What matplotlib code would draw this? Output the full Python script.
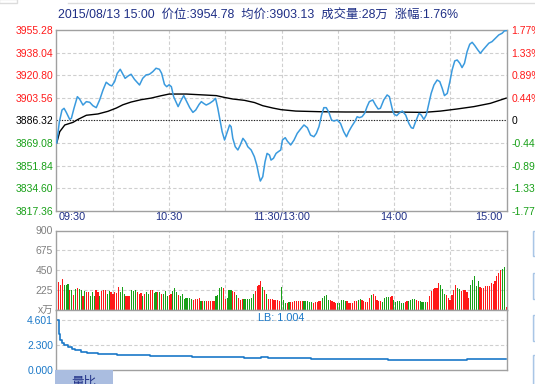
import matplotlib
matplotlib.use('Agg')
import matplotlib.pyplot as plt
from matplotlib.transforms import blended_transform_factory
from matplotlib.patches import Rectangle
import numpy as np

plt.rcParams['font.family'] = ['Liberation Sans', 'Noto Sans CJK SC', 'DejaVu Sans']

# ---------------- data ----------------
title = "2015/08/13 15:00  价位:3954.78  均价:3903.13  成交量:28万  涨幅:1.76%"
prev_close = 3886.32
price_ticks = [3817.36, 3834.60, 3851.84, 3869.08, 3886.32, 3903.56, 3920.80, 3938.04, 3955.28]
time_labels = ["09:30", "10:30", "11:30/13:00", "14:00", "15:00"]
time_label_min = [0, 60, 120, 180, 240]

price_min = [0, 1.4, 2.8, 3.9, 5.1, 6.9, 7.8, 9.2, 11, 12.2, 14, 15.8, 17.6, 19.3, 21.1, 22.9, 24.7, 26.4,
             28.2, 29.4, 30.9, 32.3, 33.9, 35.3, 36.5, 38.3, 39.7, 41.5, 44.2, 45.9, 47.7, 49.5, 51.3, 53,
             54.8, 56, 57.5, 58.7, 60, 61.2, 62.4, 64.8, 66.5, 67.8, 69.2, 71, 72.7, 74.2, 76, 77.2, 78.4,
             79.8, 81.6, 83.4, 84.8, 86, 87.3, 88.3, 89.6, 90.8, 92.3, 93.1, 94, 95.3, 96.7, 98, 99.4, 100.8,
             102, 103.8, 105.5, 106.8, 107.9, 108.7, 110, 111.2, 112.3, 113.6, 114.4, 115.7, 117.1, 118.3,
             119.6, 120.5, 122, 123.1, 124.9, 126.7, 128.4, 130.2, 132, 133.8, 135.5, 137.3, 138.6, 140,
             141.4, 142.6, 143.9, 145.3, 146.7, 148, 149.7, 151.5, 153.2, 154.7, 155.9, 157.4, 159.1, 160.4,
             161.6, 163, 164.4, 165.7, 166.9, 168.7, 170.2, 171.6, 172.8, 174.6, 176.4, 177.6, 178.5, 179.3,
             180.2, 181.5, 182.7, 184.5, 186.3, 188, 189.3, 190.3, 191.6, 193.4, 194.6, 196, 197.3, 198.7,
             199.9, 201.4, 203.1, 204.5, 205.8, 207, 208.5, 209.9, 211.1, 212.5, 213.8, 215.2, 216.4, 217.7,
             219.1, 220.5, 221.8, 223.2, 224.8, 226.2, 227.6, 229.1, 230.7, 232.4, 234.2, 236, 237.8, 239, 240]
price_val = [3869.1, 3885.3, 3894.2, 3895.5, 3892.4, 3887.1, 3887.8, 3895.5, 3904.4, 3902.6, 3898.0, 3900.6,
             3900.1, 3897.5, 3896.0, 3901.9, 3909.5, 3915.4, 3913.3, 3912.6, 3915.9, 3922.2, 3925.3, 3921.5,
             3918.4, 3920.4, 3921.5, 3917.6, 3913.3, 3918.4, 3921.0, 3921.5, 3923.5, 3926.1, 3925.3, 3922.2,
             3913.8, 3912.0, 3913.5, 3912.0, 3904.4, 3896.8, 3901.9, 3905.2, 3901.1, 3896.0, 3892.4, 3894.2,
             3898.5, 3900.6, 3899.3, 3898.0, 3899.3, 3901.1, 3903.1, 3895.5, 3885.3, 3877.7, 3871.3, 3876.4,
             3882.8, 3881.5, 3872.6, 3866.2, 3863.7, 3867.5, 3872.6, 3870.0, 3866.2, 3863.7, 3858.6, 3852.2,
             3844.5, 3840.0, 3843.3, 3854.7, 3861.1, 3859.8, 3856.0, 3857.3, 3861.1, 3862.4, 3863.7, 3871.3,
             3873.1, 3870.5, 3867.5, 3871.3, 3876.4, 3879.7, 3882.8, 3880.7, 3875.1, 3873.8, 3876.4, 3881.5,
             3890.4, 3896.0, 3896.0, 3892.4, 3886.6, 3885.8, 3886.6, 3884.0, 3877.7, 3873.8, 3877.7, 3881.5,
             3885.3, 3889.1, 3888.4, 3889.1, 3891.7, 3896.8, 3900.6, 3901.9, 3898.0, 3895.0, 3895.5, 3901.9,
             3905.7, 3904.4, 3899.0, 3894.0, 3890.9, 3889.9, 3891.7, 3893.4, 3890.4, 3884.0, 3880.7, 3880.2,
             3885.3, 3891.7, 3890.4, 3887.1, 3890.4, 3899.3, 3906.9, 3913.3, 3917.1, 3915.9, 3910.8, 3905.2,
             3906.9, 3915.9, 3924.8, 3931.7, 3932.4, 3929.9, 3926.6, 3929.9, 3938.8, 3944.4, 3945.9, 3943.4,
             3940.1, 3937.5, 3940.1, 3942.6, 3945.2, 3946.4, 3949.0, 3951.5, 3952.8, 3954.6, 3954.8]

avg_min = [0, 1.6, 4.3, 8.7, 11.4, 15.8, 22, 27.3, 31.8, 35.3, 39.7, 45.1, 50.4, 55.7, 60, 69.2, 85.2, 89.6,
           94, 100.2, 105.6, 110, 115.4, 119.7, 127.6, 140.9, 154.2, 180, 196, 204.9, 213.8, 222.7, 231.5, 240]
avg_val = [3869.1, 3877.7, 3882.8, 3884.8, 3887.1, 3890.2, 3891.2, 3893.2, 3895.7, 3898.2, 3900.3, 3902.1,
           3903.3, 3905.1, 3906.4, 3906.4, 3905.2, 3903.8, 3902.6, 3901.6, 3899.9, 3897.5, 3895.7, 3894.5,
           3893.4, 3892.9, 3892.7, 3892.7, 3892.4, 3893.4, 3895.0, 3896.8, 3899.3, 3903.3]

vol_am = [816, 314, 287, 352, 287, 287, 295, 223, 223, 174, 242, 250, 238, 223, 163, 212, 200, 204, 155, 204,
          163, 223, 204, 155, 212, 223, 223, 185, 212, 200, 185, 204, 190, 257, 204, 257, 185, 163, 163, 163,
          223, 212, 223, 204, 185, 193, 163, 185, 200, 185, 223, 223, 193, 200, 200, 200, 185, 185, 212, 163,
          174, 185, 212, 250, 204, 170, 163, 185, 129, 136, 136, 136, 129, 117, 125, 125, 136, 98, 98, 98,
          98, 98, 98, 98, 98, 155, 174, 250, 257, 250, 129, 132, 223, 223, 212, 204, 174, 136, 110, 120,
          129, 129, 129, 129, 136, 181, 212, 268, 287, 325, 257, 223, 181, 129, 125, 125, 117, 117, 117, 98]
dir_am = ("grrrgggrgrgrggrgrrgggrrgrrrggrrrrrggg" "rrrgggrrrgrggrrggrgrgggrrggg" "rggggggg" "rrrr"
          "grgrrrrrggggrrgggrrgrrrggggggrrrrgrgrrrrr")
vol_pm = [257, 110, 79, 79, 87, 87, 87, 98, 98, 98, 98, 98, 98, 98, 98, 95, 87, 79, 91, 91,
          106, 106, 136, 155, 166, 117, 110, 98, 90, 79, 76, 76, 110, 110, 106, 98, 79, 76, 76, 98,
          106, 117, 125, 110, 106, 91, 91, 136, 174, 185, 155, 117, 98, 98, 87, 136, 148, 150, 144, 155,
          117, 91, 98, 98, 79, 76, 91, 98, 106, 117, 125, 120, 117, 98, 98, 91, 91, 91, 91, 155,
          212, 238, 250, 250, 306, 280, 238, 185, 174, 136, 117, 174, 231, 287, 250, 238, 212, 231, 231, 200,
          136, 280, 344, 385, 268, 325, 257, 250, 250, 268, 268, 268, 306, 300, 325, 382, 416, 450, 469, 484, 30]
dir_pm = ("rrgggrgrrrrrrrgggggrrrrrgggg" "rrrr" "ggggg" "rrrrrrgg" "rrrrrgrrrrrggg" "grrggggggrrggggrr"
          "ggggrrrrrrr" "gggrrrrrrgg" "rrrrrggggg" "rrrrrrrrrrrrg")

lb_min = [0, 1, 2, 3, 4, 6, 8, 10, 13, 16, 22, 32, 50, 72, 100, 109, 113, 136, 177, 219, 240]
lb_val = [4.601, 3.30, 2.75, 2.45, 2.30, 2.15, 1.98, 1.82, 1.68, 1.60, 1.50, 1.38, 1.29, 1.20, 1.10, 1.18,
          1.10, 1.01, 0.92, 1.004, 1.004]
lb_ticks = [0.0, 2.300, 4.601]
lb_last = 1.004

vol_ticks = [225, 450, 675, 900]

# --------------- layout ---------------
W, H = 535, 384
fig = plt.figure(figsize=(W / 100, H / 100), dpi=100)
fig.patch.set_facecolor('white')

def fx(px):
    return px / W

def fy(py):
    return 1 - py / H

L, R = 56, 507
ax = fig.add_axes([fx(L), fy(210.7), fx(R - L), (210.7 - 30) / H])
axv = fig.add_axes([fx(L), fy(310), fx(R - L), (310 - 230.5) / H])
axl = fig.add_axes([fx(L), fy(370.3), fx(R - L), (370.3 - 310) / H])

spine_c = '#a0a0a0'
grid_c = '#cfcfcf'
red = '#ff1a1a'
green = '#18a018'
blue_line = '#3a9ade'
lb_blue = '#1a78c8'
navy = '#1f2f86'

for a in (ax, axv, axl):
    a.set_xlim(-0.4, 240.4)
    for s in a.spines.values():
        s.set_color(spine_c)
        s.set_linewidth(1.0)
    a.set_xticks([])
    a.tick_params(axis='y', length=0, labelsize=7.5, pad=2)

# main price panel
ax.set_ylim(price_ticks[0], price_ticks[-1])
for m in range(30, 240, 30):
    ax.axvline(m, color=grid_c, lw=0.8, ls=(0, (3, 2)), zorder=1)
for t in price_ticks[1:-1]:
    if abs(t - prev_close) < 1e-6:
        ax.axhline(t, color='#222222', lw=0.8, ls=(0, (1.2, 1.2)), zorder=1)
    else:
        ax.axhline(t, color=grid_c, lw=0.8, ls=(0, (3, 2)), zorder=1)
ax.plot(price_min, price_val, color=blue_line, lw=1.1, zorder=3)
ax.plot(avg_min, avg_val, color='black', lw=1.0, zorder=2)
ax.set_yticks(price_ticks)
ax.set_yticklabels([f"{t:.2f}" for t in price_ticks])

def tcolor(t):
    if abs(t - prev_close) < 1e-6:
        return 'black'
    return red if t > prev_close else green

for lab, t in zip(ax.get_yticklabels(), price_ticks):
    lab.set_color(tcolor(t))

ax2 = ax.twinx()
ax2.set_ylim(price_ticks[0], price_ticks[-1])
ax2.set_yticks(price_ticks)
pct_labels = []
for t in price_ticks:
    p = (t - prev_close) / prev_close * 100
    pct_labels.append("0" if abs(p) < 1e-6 else f"{p:.2f}%")
ax2.set_yticklabels(pct_labels)
ax2.tick_params(axis='y', length=0, labelsize=7.5, pad=3)
for s in ax2.spines.values():
    s.set_visible(False)
for lab, t in zip(ax2.get_yticklabels(), price_ticks):
    lab.set_color(tcolor(t))

# time labels
trans = blended_transform_factory(ax.transData, fig.transFigure)
aligns = ['left', 'center', 'center', 'center', 'right']
offs = [1.0, 0, 0, 0, -2.0]
for lab, m, ha, o in zip(time_labels, time_label_min, aligns, offs):
    fig.text(0, fy(217.5), lab, transform=trans, ha=ha, va='center', fontsize=7.8, color=navy)
    fig.texts[-1].set_x(m + o)

# volume panel
minutes = np.arange(len(vol_am) + len(vol_pm))
vols = np.array(vol_am + vol_pm)
dirs = dir_am + dir_pm
cols = [red if d == 'r' else green for d in dirs[:len(vols)]]
axv.set_ylim(0, 900)
for m in range(30, 240, 30):
    axv.axvline(m, color=grid_c, lw=0.8, ls=(0, (3, 2)), zorder=1)
for t in vol_ticks[:-1]:
    axv.axhline(t, color=grid_c, lw=0.8, ls=(0, (3, 2)), zorder=1)
axv.bar(minutes, vols, width=0.62, color=cols, linewidth=0, zorder=2, snap=True)
axv.set_yticks(vol_ticks)
axv.set_yticklabels([str(v) for v in vol_ticks])
for lab in axv.get_yticklabels():
    lab.set_color('#808080')
fig.text(fx(53), fy(310.5), "x万", ha='right', va='center', fontsize=7.5, color='#808080')

# LB panel
axl.set_ylim(0, 5.48)
for t in lb_ticks[1:]:
    axl.axhline(t, color=grid_c, lw=0.8, ls=(0, (3, 2)), zorder=1)
axl.step(lb_min, lb_val, where='post', color=lb_blue, lw=1.2, zorder=2)
axl.set_yticks(lb_ticks)
axl.set_yticklabels([f"{t:.3f}" for t in lb_ticks])
for lab in axl.get_yticklabels():
    lab.set_color(lb_blue)
axl.text(0.448, 0.87, f"LB: {lb_last:.3f}", transform=axl.transAxes, ha='left', va='center',
         fontsize=7.8, color=lb_blue)

# title
fig.text(fx(58), fy(15), title, ha='left', va='center', fontsize=8.9, color=navy)

# decorative tabs / frame
fig.add_artist(Rectangle((fx(55), fy(384)), fx(58), 14 / H, transform=fig.transFigure,
                         facecolor='#aabde0', edgecolor='none'))
fig.text(fx(84), fy(383), "量比", ha='center', va='center', fontsize=9, color=navy)
for y0, y1 in [(231, 256), (273, 299), (315, 341), (355, 390)]:
    fig.add_artist(Rectangle((fx(533), fy(y1)), fx(10), (y1 - y0) / H, transform=fig.transFigure,
                             facecolor='#eef4fb', edgecolor='#a9c6e6', lw=1))
fig.add_artist(plt.Line2D([fx(68), 1], [fy(3), fy(3)], transform=fig.transFigure, color='#dcdcdc', lw=1))
fig.add_artist(Rectangle((fx(-1), fy(3)), fx(18), 4 / H, transform=fig.transFigure,
                         facecolor='white', edgecolor='#dcdcdc', lw=1))

fig.savefig('out.png', dpi=100)
